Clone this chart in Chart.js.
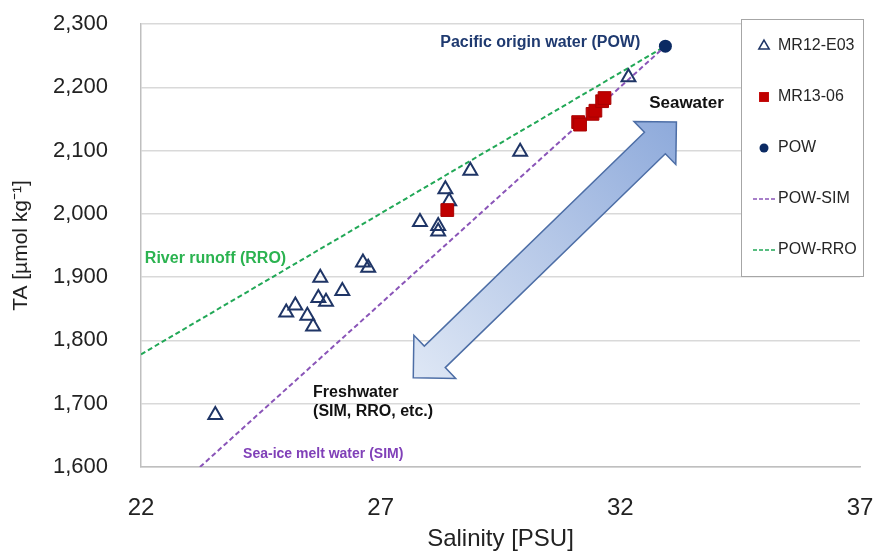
<!DOCTYPE html>
<html>
<head>
<meta charset="utf-8">
<script src="https://cdn.jsdelivr.net/npm/chart.js@4.4.1/dist/chart.umd.min.js"></script>
<style>
  html, body { margin: 0; padding: 0; background: #ffffff; }
  #wrap { width: 874px; height: 554px; }
</style>
</head>
<body>
<div id="wrap"><canvas id="c" width="874" height="554"></canvas></div>
<script>
// Salinity (PSU) and total alkalinity (µmol/kg) of the samples
const mr12Salinity = [23.55, 25.03, 25.22, 25.47, 25.59, 25.70, 25.74, 25.86, 26.20, 26.63, 26.74, 27.82, 28.20, 28.20, 28.35, 28.43, 28.87, 29.91, 32.17];
const mr12TA       = [1682, 1844, 1855, 1839, 1822, 1867, 1899, 1861, 1878, 1923, 1915, 1987, 1981, 1972, 2039, 2020, 2068, 2098, 2216];

const mr13Salinity = [28.39, 31.12, 31.16, 31.42, 31.48, 31.62, 31.67];
const mr13TA       = [2006, 2145, 2141, 2158, 2163, 2178, 2183];

// Pacific origin water end-member
const powSalinity = [32.94];
const powTA       = [2265];

// Mixing lines from POW toward sea-ice melt and river runoff
const simLineSalinity = [23.23, 32.94];
const simLineTA       = [1600, 2265];
const rroLineSalinity = [22.0, 32.94];
const rroLineTA       = [1778, 2265];

// Axis ticks
const salinityTicks = [22, 27, 32, 37];
const taTicks = [1600, 1700, 1800, 1900, 2000, 2100, 2200, 2300];

const toPoints = (xs, ys) => xs.map((x, i) => ({ x: x, y: ys[i] }));

const NAVY = '#1f3566';
const RED = '#c00000';
const PURPLE = '#8a55b8';
const GREEN = '#22a857';

const datasets = [
  {
    label: 'MR12-E03', data: toPoints(mr12Salinity, mr12TA), showLine: false,
    pointStyle: 'triangle', pointRadius: 8, pointBorderWidth: 2,
    pointBackgroundColor: 'rgba(255,255,255,0)', pointBorderColor: NAVY, order: 2
  },
  {
    label: 'MR13-06', data: toPoints(mr13Salinity, mr13TA), showLine: false,
    pointStyle: 'rect', pointRadius: 9, pointBorderWidth: 1,
    pointBackgroundColor: RED, pointBorderColor: '#a80000', order: 1
  },
  {
    label: 'POW', data: toPoints(powSalinity, powTA), showLine: false,
    pointStyle: 'circle', pointRadius: 6.5, pointBorderWidth: 0,
    pointBackgroundColor: '#0b2a63', pointBorderColor: '#0b2a63', order: 0
  },
  {
    label: 'POW-SIM', data: toPoints(simLineSalinity, simLineTA), showLine: true,
    borderColor: PURPLE, borderWidth: 2, borderDash: [5, 3], pointRadius: 0, order: 5
  },
  {
    label: 'POW-RRO', data: toPoints(rroLineSalinity, rroLineTA), showLine: true,
    borderColor: GREEN, borderWidth: 2, borderDash: [5, 3], pointRadius: 0, order: 5
  }
];

// Text notes placed in data coordinates
const notes = [
  { text: 'Pacific origin water (POW)', x: 30.33, y: 2270, color: '#1f3a70', font: 'bold 16px "Liberation Sans", Arial', align: 'center' },
  { text: 'Seawater', x: 33.38, y: 2175, color: '#111111', font: 'bold 17px "Liberation Sans", Arial', align: 'center' },
  { text: 'River runoff (RRO)', x: 22.08, y: 1929, color: '#2bb350', font: 'bold 16px "Liberation Sans", Arial', align: 'left' },
  { text: 'Freshwater', x: 25.59, y: 1717, color: '#111111', font: 'bold 16px "Liberation Sans", Arial', align: 'left' },
  { text: '(SIM, RRO, etc.)', x: 25.59, y: 1687, color: '#111111', font: 'bold 16px "Liberation Sans", Arial', align: 'left' },
  { text: 'Sea-ice melt water (SIM)', x: 24.13, y: 1621, color: '#8040b8', font: 'bold 14px "Liberation Sans", Arial', align: 'left' }
];

// Double-headed arrow between freshwater and seawater (tips in data coordinates)
const arrowTips = { from: { x: 27.68, y: 1741 }, to: { x: 33.17, y: 2145 } };

const arrowPlugin = {
  id: 'mixArrow',
  beforeDatasetsDraw(chart) {
    const { ctx, scales: { x, y } } = chart;
    const p1 = { x: x.getPixelForValue(arrowTips.from.x), y: y.getPixelForValue(arrowTips.from.y) };
    const p2 = { x: x.getPixelForValue(arrowTips.to.x), y: y.getPixelForValue(arrowTips.to.y) };
    const dx = p2.x - p1.x, dy = p2.y - p1.y;
    const len = Math.hypot(dx, dy);
    const u = { x: dx / len, y: dy / len };
    const n = { x: -u.y, y: u.x };
    const head = 30, headHalf = 30, shaftHalf = 15;
    const pt = (base, a, b) => ({ x: base.x + u.x * a + n.x * b, y: base.y + u.y * a + n.y * b });
    const pts = [
      p1,
      pt(p1, head, headHalf),
      pt(p1, head, shaftHalf),
      pt(p2, -head, shaftHalf),
      pt(p2, -head, headHalf),
      p2,
      pt(p2, -head, -headHalf),
      pt(p2, -head, -shaftHalf),
      pt(p1, head, -shaftHalf),
      pt(p1, head, -headHalf)
    ];
    ctx.save();
    const g = ctx.createLinearGradient(p1.x, p1.y, p2.x, p2.y);
    g.addColorStop(0, '#dee7f5');
    g.addColorStop(0.5, '#b7c9e8');
    g.addColorStop(1, '#8eaadb');
    ctx.beginPath();
    pts.forEach((p, i) => (i ? ctx.lineTo(p.x, p.y) : ctx.moveTo(p.x, p.y)));
    ctx.closePath();
    ctx.fillStyle = g;
    ctx.fill();
    ctx.lineWidth = 1.5;
    ctx.strokeStyle = '#4d6ea6';
    ctx.stroke();
    ctx.restore();
  },
  afterDatasetsDraw(chart) {
    const { ctx, scales: { x, y } } = chart;
    ctx.save();
    ctx.textBaseline = 'middle';
    notes.forEach(nt => {
      ctx.font = nt.font;
      ctx.fillStyle = nt.color;
      ctx.textAlign = nt.align;
      ctx.fillText(nt.text, x.getPixelForValue(nt.x), y.getPixelForValue(nt.y));
    });
    ctx.restore();
  }
};

// Boxed legend drawn over the upper-right of the plot
const boxLegendPlugin = {
  id: 'boxLegend',
  afterDraw(chart) {
    const { ctx, chartArea } = chart;
    const left = chartArea.right - 119, top = chartArea.top - 5, w = 122, h = 257;
    ctx.save();
    ctx.fillStyle = '#ffffff';
    ctx.fillRect(left, top, w, h);
    ctx.strokeStyle = '#a6a6a6';
    ctx.lineWidth = 1;
    ctx.strokeRect(left + 0.5, top + 0.5, w, h);
    ctx.textBaseline = 'middle';
    ctx.textAlign = 'left';
    chart.data.datasets.forEach((ds, i) => {
      const cy = top + 27 + i * 51;
      const mx = left + 23;
      if (ds.showLine) {
        ctx.beginPath();
        ctx.setLineDash([4, 2]);
        ctx.strokeStyle = ds.borderColor;
        ctx.lineWidth = 1.5;
        ctx.moveTo(left + 12, cy);
        ctx.lineTo(left + 35, cy);
        ctx.stroke();
        ctx.setLineDash([]);
      } else {
        const tri = ds.pointStyle === 'triangle';
        ctx.fillStyle = ds.pointBackgroundColor;
        ctx.strokeStyle = ds.pointBorderColor;
        ctx.lineWidth = tri ? 1.5 : 0;
        Chart.helpers.drawPoint(ctx, {
          pointStyle: ds.pointStyle,
          radius: tri ? 6 : (ds.pointStyle === 'rect' ? 7 : 4.5),
          borderWidth: tri ? 1.5 : 0,
          rotation: 0
        }, mx, cy);
      }
      ctx.font = '16px "Liberation Sans", Arial';
      ctx.fillStyle = '#262626';
      ctx.fillText(ds.label, left + 37, cy);
    });
    ctx.restore();
  }
};

new Chart(document.getElementById('c'), {
  type: 'scatter',
  data: { datasets: datasets },
  plugins: [arrowPlugin, boxLegendPlugin],
  options: {
    responsive: false,
    animation: false,
    devicePixelRatio: 1,
    layout: { padding: { top: 24, right: 14, left: 0, bottom: 0 } },
    plugins: { legend: { display: false }, tooltip: { enabled: false } },
    scales: {
      x: {
        type: 'linear', min: 22, max: 37,
        afterBuildTicks: s => { s.ticks = salinityTicks.map(v => ({ value: v })); },
        afterFit: s => { s.height = 87; s.paddingLeft = 12; s.paddingRight = 12; },
        grid: { display: false, drawTicks: false },
        border: { display: true, color: '#bfbfbf', width: 1.5 },
        ticks: { padding: 27, color: '#222222', font: { family: '"Liberation Sans", Arial', size: 24 } },
        title: { display: true, text: 'Salinity [PSU]', color: '#222222', padding: { top: 0, bottom: 0 },
                 font: { family: '"Liberation Sans", Arial', size: 24 } }
      },
      y: {
        type: 'linear', min: 1600, max: 2300,
        afterBuildTicks: s => { s.ticks = taTicks.map(v => ({ value: v })); },
        afterFit: s => { s.width = 141; s.paddingTop = 12; s.paddingBottom = 12; },
        grid: { color: '#d9d9d9', lineWidth: 1.5, drawTicks: false },
        border: { display: true, color: '#bfbfbf', width: 1.5 },
        ticks: { padding: 33, color: '#222222', font: { family: '"Liberation Sans", Arial', size: 22 },
                 callback: v => v.toLocaleString('en-US') },
        title: { display: true, text: 'TA [µmol kg⁻¹]', color: '#222222', padding: { top: 9, bottom: 0 },
                 font: { family: '"Liberation Sans", Arial', size: 21 } }
      }
    }
  }
});
</script>
</body>
</html>
